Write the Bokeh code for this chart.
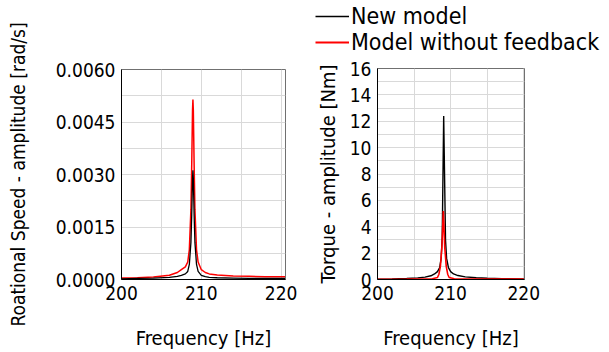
from bokeh.plotting import figure
from bokeh.layouts import row, column
from bokeh.models import (FixedTicker, PrintfTickFormatter, Range1d, Legend, LegendItem)
from bokeh.embed import file_html
from bokeh.resources import INLINE

FONT = "DejaVu Sans Condensed"

# ---- Left panel: rotational speed amplitude [rad/s]
speed_freq_new = [200, 202, 204, 206, 207, 207.5, 208, 208.3, 208.5, 208.7, 208.8, 208.9,
                  208.95, 209.0, 209.1, 209.2, 209.4, 209.6, 210, 210.5, 211, 212, 214,
                  216, 218, 220, 220.5]
speed_new = [0.00002, 0.00003, 0.00004, 0.00006, 0.00009, 0.00012, 0.00016, 0.00023, 0.00043,
             0.00106, 0.00184, 0.0029, 0.00312, 0.0029, 0.00184, 0.00106, 0.00043, 0.00023,
             0.00012, 0.00008, 0.00006, 0.00005, 0.00004, 0.00003, 0.00003, 0.00003, 0.00003]
speed_freq_nofb = [200, 202, 204, 206, 207, 207.5, 208, 208.3, 208.5, 208.7, 208.8, 208.9,
                   208.95, 209.0, 209.1, 209.2, 209.4, 209.6, 210, 210.5, 211, 212, 214,
                   216, 218, 220, 220.5]
speed_nofb = [0.00004, 0.00005, 0.00007, 0.00012, 0.0002, 0.00028, 0.00036, 0.0005, 0.00085,
              0.00201, 0.00329, 0.00484, 0.00514, 0.00484, 0.00329, 0.00201, 0.00085, 0.0005,
              0.00028, 0.0002, 0.00016, 0.00013, 0.0001, 0.00009, 0.00008, 0.00008, 0.00008]

# ---- Right panel: torque amplitude [Nm]
torque_freq_new = [200, 202, 204, 205.5, 206.5, 207.3, 207.8, 208.2, 208.5, 208.7, 208.85,
                   209.05, 209.3, 209.45, 209.7, 210.0, 210.4, 211, 212, 213.5, 215, 217, 220]
torque_new = [0.03, 0.05, 0.08, 0.12, 0.18, 0.28, 0.42, 0.6, 0.9, 1.6, 3.2,
              12.4, 3.0, 1.6, 0.9, 0.6, 0.42, 0.3, 0.2, 0.13, 0.09, 0.06, 0.04]
torque_freq_nofb = [200, 204, 206, 207.5, 208.2, 208.4, 208.6, 208.8, 209.0, 209.2, 209.4,
                    209.6, 209.8, 210.5, 213, 220]
torque_nofb = [0.02, 0.03, 0.04, 0.06, 0.15, 0.4, 1.0, 2.4, 5.2, 2.4, 1.0,
               0.4, 0.15, 0.06, 0.04, 0.03]

x_ticks = [200, 210, 220]
x_minor = [205, 215]
speed_ticks = [0.0, 0.0015, 0.003, 0.0045, 0.006]
speed_minor = [0.00075, 0.00225, 0.00375, 0.00525]
torque_ticks = [0, 2, 4, 6, 8, 10, 12, 14, 16]
torque_minor = [1, 3, 5, 7, 9, 11, 13, 15]

series_names = ["New model", "Model without feedback"]
series_colors = ["#000000", "#ff0000"]


def style(p, yticks, yminor):
    p.xaxis.ticker = FixedTicker(ticks=x_ticks, minor_ticks=x_minor)
    p.yaxis.ticker = FixedTicker(ticks=yticks, minor_ticks=yminor)
    for ax in (p.xaxis[0], p.yaxis[0]):
        ax.major_tick_line_color = None
        ax.minor_tick_line_color = None
        ax.axis_line_color = "#000000"
        ax.axis_line_width = 1
        ax.major_label_text_font = FONT
        ax.major_label_text_font_size = "19px"
        ax.major_label_text_color = "#000000"
        ax.axis_label_text_font = FONT
        ax.axis_label_text_font_size = "20px"
        ax.axis_label_text_font_style = "normal"
        ax.axis_label_text_color = "#000000"
        ax.major_label_standoff = 0
    p.xaxis.axis_label = "Frequency [Hz]"
    p.xaxis.axis_label_standoff = 23
    for g in (p.xgrid[0], p.ygrid[0]):
        g.grid_line_color = "#d9d9d9"
        g.minor_grid_line_color = "#d9d9d9"
        g.grid_line_width = 1
    p.outline_line_color = "#707070"
    p.background_fill_color = "white"
    p.border_fill_color = "white"


p1 = figure(width=300, height=352, output_backend="svg", toolbar_location=None,
            x_range=Range1d(200, 220.55), y_range=Range1d(0, 0.006),
            min_border_left=121, min_border_right=15, min_border_top=69,
            min_border_bottom=66)
style(p1, speed_ticks, speed_minor)
p1.yaxis.formatter = PrintfTickFormatter(format="%.4f")
p1.yaxis.axis_label = "Roational Speed - amplitude [rad/s]"
p1.yaxis.axis_label_text_font_size = "19px"
p1.yaxis.axis_label_standoff = 24
p1.line(speed_freq_nofb, speed_nofb, line_color=series_colors[1], line_width=1.5)
p1.line(speed_freq_new, speed_new, line_color=series_colors[0], line_width=1.3)

p2 = figure(width=309, height=296, output_backend="svg", toolbar_location=None,
            x_range=Range1d(200, 220.1), y_range=Range1d(0, 16),
            min_border_left=77, min_border_right=85, min_border_top=12,
            min_border_bottom=66)
style(p2, torque_ticks, torque_minor)
p2.yaxis.axis_label = "Torque - amplitude [Nm]"
p2.yaxis.axis_label_standoff = 7
p2.line(torque_freq_new, torque_new, line_color=series_colors[0], line_width=1.4)
p2.line(torque_freq_nofb, torque_nofb, line_color=series_colors[1], line_width=1.6)

# legend strip above the right panel (its lines lie outside its own view)
p_leg = figure(width=309, height=56, output_backend="svg", toolbar_location=None,
               x_range=Range1d(0, 1), y_range=Range1d(0, 1),
               min_border_left=0, min_border_right=0, min_border_top=0,
               min_border_bottom=0)
p_leg.axis.visible = False
p_leg.grid.visible = False
p_leg.outline_line_color = None
p_leg.border_fill_color = "white"
l_new = p_leg.line(torque_freq_new, torque_new, line_color=series_colors[0], line_width=1.3)
l_nofb = p_leg.line(torque_freq_nofb, torque_nofb, line_color=series_colors[1], line_width=2)

legend = Legend(items=[LegendItem(label=series_names[0], renderers=[l_new]),
                       LegendItem(label=series_names[1], renderers=[l_nofb])],
                location=(15, 1), border_line_color=None, background_fill_alpha=0,
                padding=0, margin=0, spacing=0, glyph_width=34, glyph_height=26,
                label_height=26, label_standoff=2, label_text_font=FONT,
                label_text_font_size="23px", label_text_color="#000000")
p_leg.add_layout(legend, "center")

layout = row(p1, column(row(p_leg), row(p2)))
open("out.html", "w").write(file_html(layout, INLINE))
